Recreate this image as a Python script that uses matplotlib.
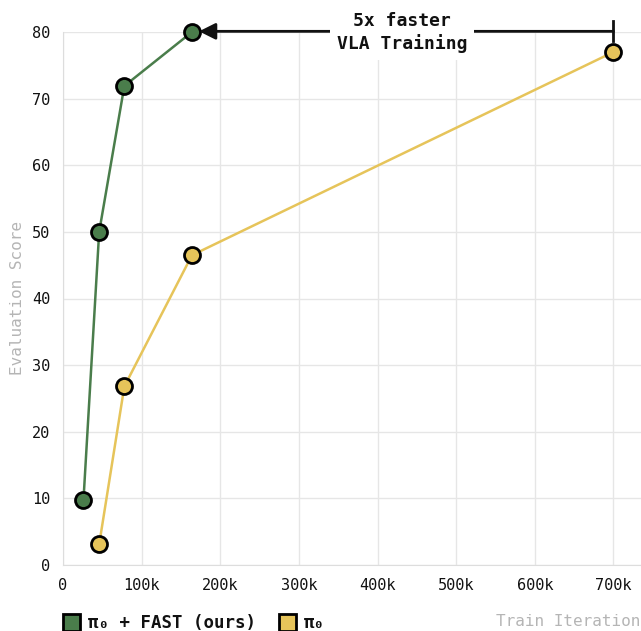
import matplotlib
matplotlib.use('Agg')
import matplotlib.pyplot as plt
from matplotlib.patches import Rectangle

plt.rcParams.update({
    'font.family': 'DejaVu Sans Mono',
    'font.size': 11,
})

GREEN = '#4a7d4b'
YELLOW = '#e6c45a'
GRID = '#e6e6e6'

fast_iters = [26000, 46000, 78000, 164000]
fast_scores = [9.7, 50.0, 71.9, 80.0]
base_iters = [46000, 78000, 164000, 700000]
base_scores = [3.1, 26.8, 46.5, 77.0]

x_ticks = [0, 100000, 200000, 300000, 400000, 500000, 600000, 700000]
x_labels = ['0', '100k', '200k', '300k', '400k', '500k', '600k', '700k']
y_ticks = [0, 10, 20, 30, 40, 50, 60, 70, 80]

fig = plt.figure(figsize=(6.41, 6.31), dpi=100)
ax = fig.add_axes([63 / 641, 1 - 565 / 631, 578 / 641, 533 / 631])

ax.plot(base_iters, base_scores, color=YELLOW, lw=1.8, marker='o', ms=11.5,
        mfc=YELLOW, mec='black', mew=2, clip_on=False, zorder=4)
ax.plot(fast_iters, fast_scores, color=GREEN, lw=1.8, marker='o', ms=11.5,
        mfc=GREEN, mec='black', mew=2, clip_on=False, zorder=5)

ax.set_xlim(0, 735000)
ax.set_ylim(0, 80)
ax.set_xticks(x_ticks)
ax.set_xticklabels(x_labels)
ax.set_yticks(y_ticks)
ax.tick_params(length=0, pad=9, labelsize=11, colors='#111111')
ax.grid(True, color=GRID, lw=1)
ax.set_axisbelow(True)
for s in ['top', 'right']:
    ax.spines[s].set_visible(False)
for s in ['left', 'bottom']:
    ax.spines[s].set_color('#dddddd')

# annotation: arrow from baseline end to fast end
y_ann = 80.1
ax.annotate('', xy=(fast_iters[-1] + 9000, y_ann), xytext=(base_iters[-1], y_ann),
            arrowprops=dict(arrowstyle='-|>,head_length=0.9,head_width=0.45',
                            color='#111111', lw=2, shrinkA=0, shrinkB=0),
            annotation_clip=False, zorder=6)
ax.plot([base_iters[-1], base_iters[-1]], [78.6, 81.7], color='#111111', lw=2,
        clip_on=False, zorder=6)
ax.text(431000, 79.9, '5x faster\nVLA Training', ha='center', va='center',
        fontsize=13, fontweight='bold', color='#111111', linespacing=1.25,
        bbox=dict(facecolor='white', edgecolor='none', pad=5), zorder=7)

fig.text(18 / 641, 1 - 298 / 631, 'Evaluation Score', rotation=90, ha='center',
         va='center', color='#b5b5b5', fontsize=11.5)
fig.text(640 / 641, 1 - 622 / 631, 'Train Iteration', ha='right', va='center',
         color='#b5b5b5', fontsize=11.5)

# legend
for x0, col, label in [(63, GREEN, 'π₀ + FAST (ours)'), (279, YELLOW, 'π₀')]:
    fig.patches.append(Rectangle((x0 / 641, 1 - 631 / 631), 17 / 641, 17 / 631,
                                 transform=fig.transFigure, facecolor=col,
                                 edgecolor='black', lw=2))
    fig.text((x0 + 25) / 641, 1 - 623 / 631, label, ha='left', va='center',
             fontsize=12.5, fontweight='bold', color='#111111')

fig.savefig('out.png', dpi=100)
